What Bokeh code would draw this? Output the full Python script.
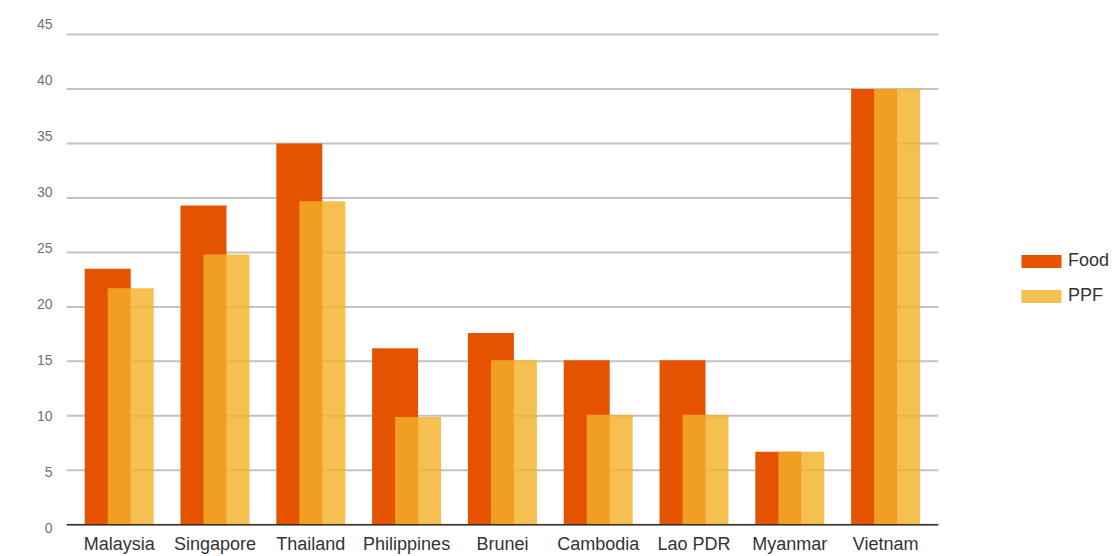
from bokeh.plotting import figure
from bokeh.models import (Range1d, ColumnDataSource, LinearAxis,
                          Legend, LegendItem, FixedTicker)
from bokeh.transform import dodge
from bokeh.embed import file_html
from bokeh.resources import INLINE

countries = ["Malaysia", "Singapore", "Thailand", "Philippines", "Brunei",
             "Cambodia", "Lao PDR", "Myanmar", "Vietnam"]
food = [23.5, 29.3, 35.0, 16.2, 17.6, 15.1, 15.1, 6.7, 40.0]
ppf = [21.7, 24.8, 29.7, 9.9, 15.1, 10.1, 10.1, 6.7, 40.0]
y_ticks = [0, 5, 10, 15, 20, 25, 30, 35, 40, 45]

FONT = "Liberation Sans"
idx = list(range(len(countries)))

src = ColumnDataSource(dict(idx=idx, country=countries, food=food, ppf=ppf))

p = figure(x_range=Range1d(-0.55, 10.368),
           y_range=Range1d(-0.34, 46.47),
           width=1112, height=556, output_backend="svg", toolbar_location=None,
           y_axis_location=None,
           min_border_left=66, min_border_right=0, min_border_top=18,
           min_border_bottom=26)
p.grid.visible = False
p.outline_line_color = None

# gridlines spanning the category area only
grid_src = ColumnDataSource(dict(y=y_ticks, x0=[idx[0] - 0.55] * len(y_ticks),
                                 x1=[idx[-1] + 0.55] * len(y_ticks)))
p.segment(x0="x0", x1="x1", y0="y", y1="y", source=grid_src,
          line_color="#c2c2c2", line_width=2)

r_food = p.vbar(x=dodge("idx", -0.12), top="food", width=0.48,
                source=src, fill_color="#E55300", line_color=None)
r_ppf = p.vbar(x=dodge("idx", 0.12), top="ppf", width=0.48,
               source=src, fill_color="#F3B128", fill_alpha=0.81, line_color=None)

# baseline
p.segment(x0=[idx[0] - 0.55], x1=[idx[-1] + 0.55], y0=[0], y1=[0],
          line_color="#333333", line_width=1.5)

p.xaxis.ticker = FixedTicker(ticks=idx)
p.xaxis.major_label_overrides = {i: c for i, c in zip(idx, countries)}
p.xaxis.axis_line_color = None
p.xaxis.major_tick_line_color = None
p.xaxis.minor_tick_line_color = None
p.xaxis.major_tick_out = 0
p.xaxis.major_tick_in = 0
p.xaxis.major_label_text_font = FONT
p.xaxis.major_label_text_font_size = "18px"
p.xaxis.major_label_text_color = "#333333"
p.xaxis.major_label_standoff = 5

# value labels: separate scale (labels sit slightly off the gridlines, as in the source)
p.extra_y_ranges = {"lab": Range1d(-0.01, 45.45)}
yax = LinearAxis(y_range_name="lab", ticker=FixedTicker(ticks=y_ticks),
                 axis_line_color=None, major_tick_line_color=None,
                 minor_tick_line_color=None, major_tick_out=0, major_tick_in=0,
                 major_label_standoff=14, major_label_text_font=FONT,
                 major_label_text_font_size="14px", major_label_text_color="#707070")
p.add_layout(yax, "left")

legend = Legend(items=[LegendItem(label="Food", renderers=[r_food]),
                       LegendItem(label="PPF", renderers=[r_ppf])],
                location=(950, 222), glyph_width=50, glyph_height=16,
                label_height=21, label_standoff=2, spacing=14, padding=0, margin=0,
                border_line_color=None, background_fill_alpha=0,
                label_text_font=FONT, label_text_font_size="18px",
                label_text_color="#333333")
p.add_layout(legend)

open("out.html", "w").write(file_html(p, INLINE))
